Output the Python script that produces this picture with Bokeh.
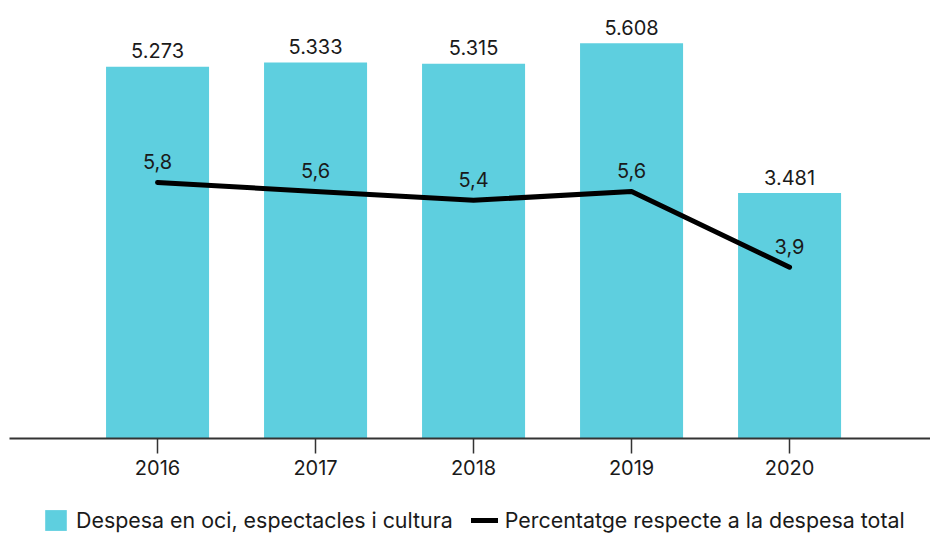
from bokeh.plotting import figure
from bokeh.layouts import column
from bokeh.models import Range1d, ColumnDataSource, Legend, LegendItem, FixedTicker
from bokeh.core.properties import value
from bokeh.embed import file_html
from bokeh.resources import INLINE

years = ["2016", "2017", "2018", "2019", "2020"]
spending = [5273, 5333, 5315, 5608, 3481]
pct = [5.8, 5.6, 5.4, 5.6, 3.9]
legend_labels = ["Despesa en oci, espectacles i cultura",
                 "Percentatge respecte a la despesa total"]

FONT = "Inter"
BAR = "#5ecfdf"
TXT = "#1a1a1a"

xs = list(range(len(years)))
src = ColumnDataSource(dict(
    x=xs,
    spend=spending,
    spend_lbl=[f"{v:,}".replace(",", ".") for v in spending],
    pct=pct,
    pct_lbl=[f"{v:.1f}".replace(".", ",") for v in pct],
))

p = figure(width=930, height=483, output_backend="svg", toolbar_location=None,
           x_range=Range1d(-0.937, 4.892), y_range=Range1d(0, 6100),
           y_axis_location=None, min_border_left=9, min_border_right=0,
           min_border_top=8, min_border_bottom=45)
p.extra_y_ranges = {"pct": Range1d(0.057, 9.703)}
p.outline_line_color = None
p.xgrid.visible = False
p.ygrid.visible = False

bars = p.vbar(x="x", top="spend", width=0.652, source=src, fill_color=BAR, line_color=None)
p.text(x="x", y="spend", text="spend_lbl", source=src, text_align="center",
       text_baseline="alphabetic", y_offset=-16, text_font=value(FONT),
       text_font_size="20px", text_color=TXT)

ln = p.line(x="x", y="pct", source=src, y_range_name="pct", line_color="black",
            line_width=5, line_cap="round", line_join="round")
p.text(x="x", y="pct", text="pct_lbl", source=src, y_range_name="pct",
       text_align="center", text_baseline="alphabetic", y_offset=-21,
       text_font=value(FONT), text_font_size="20px", text_color=TXT)

ax = p.xaxis[0]
ax.ticker = FixedTicker(ticks=xs)
ax.major_label_overrides = {i: y for i, y in enumerate(years)}
ax.minor_tick_line_color = None
ax.major_tick_in = 0
ax.major_tick_out = 15
ax.major_tick_line_color = "#333333"
ax.major_tick_line_width = 1.5
ax.axis_line_color = "#333333"
ax.axis_line_width = 2
ax.major_label_standoff = 6
ax.major_label_text_font = FONT
ax.major_label_text_font_size = "20px"
ax.major_label_text_color = TXT

# legend strip (legend renderers use the same data, drawn outside the strip's visible range)
p2 = figure(width=930, height=50, output_backend="svg", toolbar_location=None,
            x_range=Range1d(100, 101), y_range=Range1d(100000, 100001),
            x_axis_location=None, y_axis_location=None,
            min_border_left=0, min_border_right=0, min_border_top=0, min_border_bottom=0)
p2.outline_line_color = None
p2.xgrid.visible = False
p2.ygrid.visible = False
lg_bar = p2.vbar(x="x", top="spend", width=0.652, source=src, fill_color=BAR, line_color=None)
lg_line = p2.line(x="x", y="pct", source=src, line_color="black", line_width=5, line_cap="round")

legend = Legend(items=[
    LegendItem(label=legend_labels[0], renderers=[lg_bar]),
    LegendItem(label=legend_labels[1], renderers=[lg_line]),
], orientation="horizontal", location=(33, 0))
legend.glyph_width = 27
legend.glyph_height = 26
legend.label_standoff = 7
legend.spacing = 18
legend.padding = 0
legend.margin = 0
legend.border_line_color = None
legend.background_fill_alpha = 0
legend.label_text_font = FONT
legend.label_text_font_size = "21.4px"
legend.label_text_color = TXT
p2.add_layout(legend)

layout = column(p, p2, spacing=0)
open("out.html", "w").write(file_html(layout, INLINE))
